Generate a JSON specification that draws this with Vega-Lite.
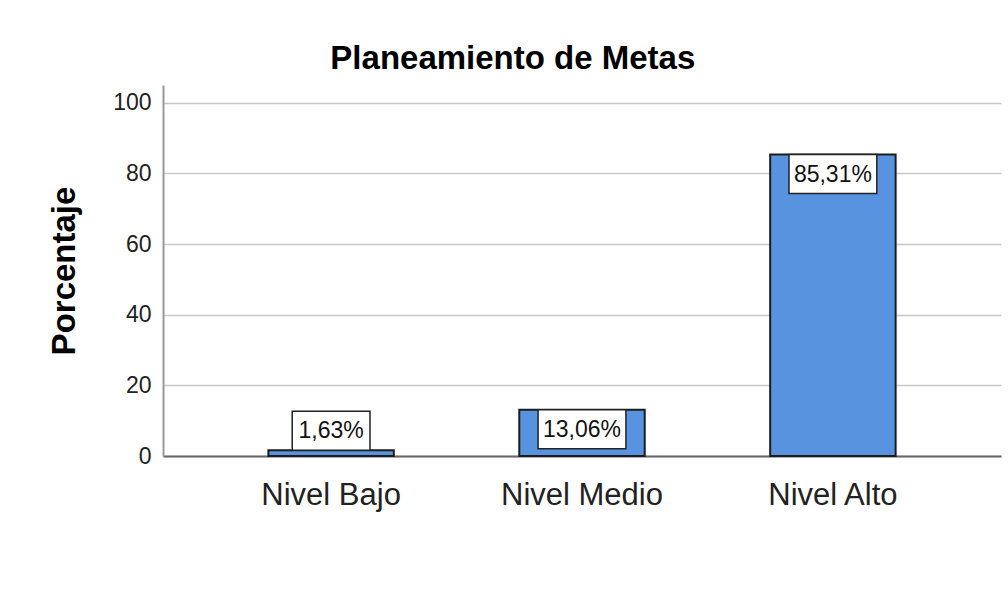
{
  "$schema": "https://vega.github.io/schema/vega-lite/v6.json",
  "autosize": "none",
  "width": 838,
  "height": 371,
  "padding": {"left": 163, "top": 85, "right": 7, "bottom": 150},
  "background": "white",
  "config": {
    "font": "Liberation Sans",
    "view": {"stroke": null}
  },
  "title": {
    "text": "Planeamiento de Metas",
    "fontSize": 33,
    "fontWeight": "bold",
    "font": "Liberation Sans",
    "color": "black",
    "anchor": "middle",
    "frame": "bounds",
    "dx": -12,
    "offset": 9
  },
  "data": {
    "values": [
      {"nivel": "Nivel Bajo", "pct": 1.63, "etiqueta": "1,63%"},
      {"nivel": "Nivel Medio", "pct": 13.06, "etiqueta": "13,06%"},
      {"nivel": "Nivel Alto", "pct": 85.31, "etiqueta": "85,31%"}
    ]
  },
  "encoding": {
    "x": {
      "field": "nivel",
      "type": "nominal",
      "sort": null,
      "scale": {"paddingInner": 0.5, "paddingOuter": 0.42},
      "axis": {
        "title": null,
        "labelAngle": 0,
        "labelFontSize": 31,
        "labelColor": "#222",
        "labelPadding": 24,
        "ticks": false,
        "domainColor": "#666",
        "domainWidth": 2,
        "grid": false
      }
    },
    "y": {
      "field": "pct",
      "type": "quantitative",
      "scale": {"domain": [0, 105], "nice": false},
      "axis": {
        "title": "Porcentaje",
        "titleFontSize": 33,
        "titleFontWeight": "bold",
        "titleColor": "black",
        "titlePadding": 31,
        "values": [0, 20, 40, 60, 80, 100],
        "labelFontSize": 23,
        "labelColor": "#222",
        "labelPadding": 12,
        "ticks": false,
        "domainColor": "#999",
        "domainWidth": 2,
        "gridColor": "#c8c8c8",
        "gridWidth": 1.5
      }
    }
  },
  "layer": [
    {
      "mark": {"type": "bar", "fill": "#5893e0", "stroke": "#1c1c1c", "strokeWidth": 2}
    },
    {
      "transform": [{"filter": "datum.pct >= 10"}],
      "mark": {"type": "bar", "fill": "white", "stroke": "#222", "strokeWidth": 1.5, "width": {"band": 0.7}, "y2Offset": 39},
      "encoding": {"y2": {"field": "pct"}}
    },
    {
      "transform": [{"filter": "datum.pct < 10"}],
      "mark": {"type": "bar", "fill": "white", "stroke": "#222", "strokeWidth": 1.5, "width": {"band": 0.62}, "yOffset": -39},
      "encoding": {"y2": {"field": "pct"}}
    },
    {
      "transform": [{"filter": "datum.pct >= 10"}],
      "mark": {"type": "text", "fontSize": 23, "color": "#111", "baseline": "middle", "yOffset": 20},
      "encoding": {"text": {"field": "etiqueta"}}
    },
    {
      "transform": [{"filter": "datum.pct < 10"}],
      "mark": {"type": "text", "fontSize": 23, "color": "#111", "baseline": "middle", "yOffset": -19},
      "encoding": {"text": {"field": "etiqueta"}}
    }
  ]
}
